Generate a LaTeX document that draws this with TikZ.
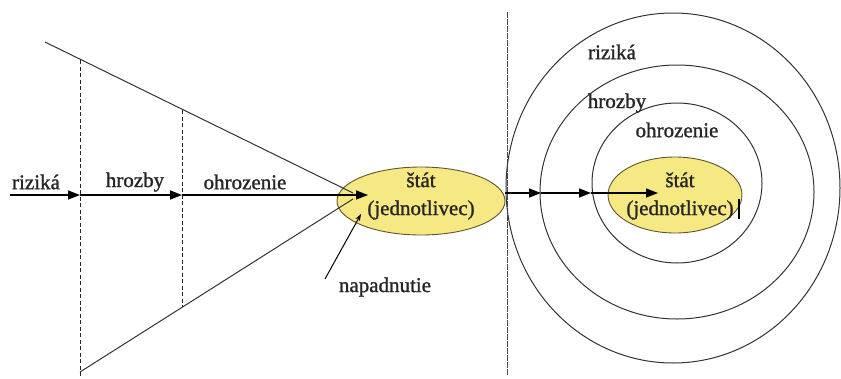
\documentclass[tikz,border=0pt]{standalone}
\usepackage{fontspec}
\newfontfamily\serfont[BoldFont={Liberation Serif}, BoldFeatures={FakeBold=1.2}]{Liberation Serif}
\usetikzlibrary{arrows.meta,shapes.geometric}
\definecolor{statefill}{RGB}{246,232,130}
\definecolor{stateline}{RGB}{95,85,45}
\begin{document}
\begin{tikzpicture}[x=1pt,y=-1pt,
  lbl/.style={font=\serfont\bfseries\fontsize{21}{28}\selectfont, inner sep=0pt, text=black!85},
  statebox/.style={ellipse, draw=stateline, line width=0.9pt, fill=statefill, inner sep=0pt},
  arr/.style={-{Triangle[length=12pt,width=9pt]}, line width=1.5pt},
  thin/.style={line width=1pt, black!80},
  dsh/.style={line width=1pt, black!85, dash pattern=on 4pt off 2.5pt}]
\useasboundingbox (0,0) rectangle (841,378);
% left cone
\coordinate (ct) at (45,42);
\coordinate (cb) at (80,372);
\coordinate (tip1) at (353,193);
\coordinate (tip2) at (353,199);
\node[statebox, minimum width=168pt, minimum height=68pt] (e1) at (421,201) {};
\node[lbl, align=center] (t1) at (421,196) {štát\\(jednotlivec)};
\draw[thin] (ct) -- (tip1);
\draw[thin] (cb) -- (tip2);
% dashed verticals
\coordinate (d1t) at (80,60);
\coordinate (d1b) at (80,378);
\coordinate (d2t) at (182,110);
\coordinate (d2b) at (182,307);
\draw[dsh] (d1t) -- (d1b);
\draw[dsh] (d2t) -- (d2b);
% horizontal arrows
\coordinate (h0) at (10,195);
\coordinate (h1) at (80,195);
\coordinate (h2) at (182,195);
\coordinate (h3) at (368,195);
\draw[arr] (h0) -- (h1);
\draw[arr] (h1) -- (h2);
\draw[arr] (h2) -- (h3);
\node[lbl] (l1) at (36,182) {riziká};
\node[lbl] (l2) at (135,182) {hrozby};
\node[lbl] (l3) at (245,182) {ohrozenie};
% napadnutie
\node[lbl] (nap) at (385,287) {napadnutie};
\coordinate (na0) at (325,279);
\coordinate (na1) at (361,214);
\draw[-{Stealth[length=7pt,width=5pt]}, line width=1pt] (na0) -- (na1);
% divider
\coordinate (vt) at (507,12);
\coordinate (vb) at (507,376);
\draw[line width=0.8pt, black!70, dash pattern=on 6pt off 1pt] (vt) -- (vb);
% circles
\draw[thin] (673,188) ellipse (167 and 175);
\draw[thin] (677,192) ellipse (137 and 127);
\draw[thin] (677,183) ellipse (85 and 80);
\node[statebox, minimum width=134pt, minimum height=76pt] (e2) at (675,195) {};
\node[lbl, align=center] (t2) at (680,196) {štát\\(jednotlivec)};
\draw[line width=1.6pt] (739,199) -- (739,219);
\coordinate (r0) at (505,193);
\coordinate (r1) at (541,193);
\coordinate (r2) at (591,193);
\coordinate (r3) at (658,193);
\draw[arr] (r0) -- (r1);
\draw[arr] (r1) -- (r2);
\draw[arr] (r2) -- (r3);
\node[lbl] (l4) at (612,52) {riziká};
\node[lbl] (l5) at (617,103) {hrozby};
\node[lbl] (l6) at (677,130) {ohrozenie};
\end{tikzpicture}
\end{document}
